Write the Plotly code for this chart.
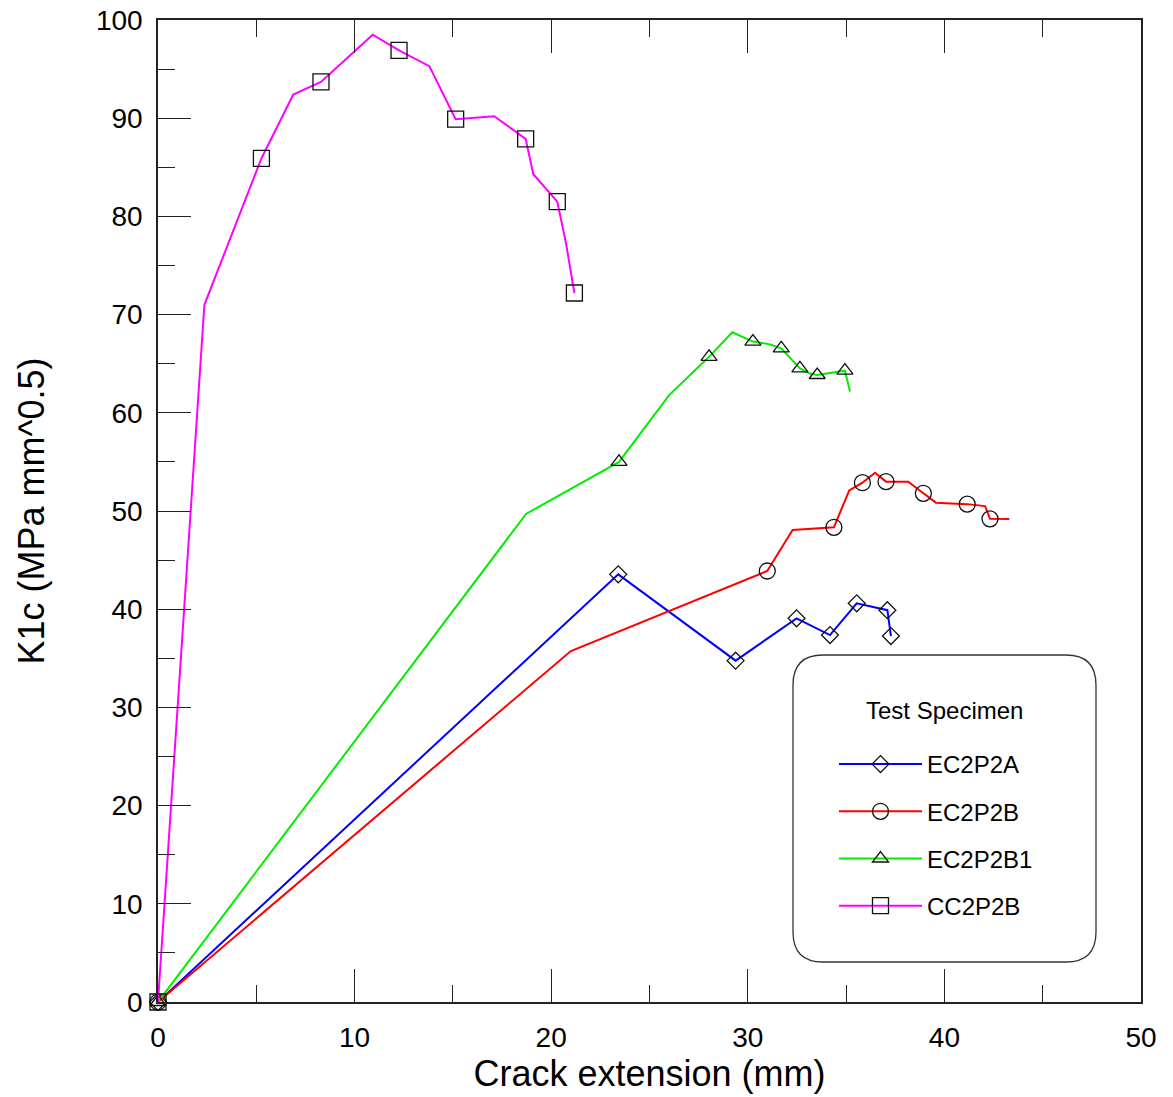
import plotly.graph_objects as go

# ---------------- data ----------------
series_names = ["EC2P2A", "EC2P2B", "EC2P2B1", "CC2P2B"]

ec2p2a_x = [0, 23.41, 29.38, 32.48, 34.18, 35.54, 37.10, 37.28]
ec2p2a_y = [0, 43.55, 34.76, 39.07, 37.37, 40.60, 39.90, 37.27]
ec2p2a_marked = [0, 1, 2, 3, 4, 5, 6, 7]

ec2p2b_x = [0, 21.00, 30.99, 32.28, 34.38, 35.16, 35.83, 36.47, 37.03, 38.16,
            38.93, 39.57, 41.16, 42.07, 42.32, 43.30]
ec2p2b_y = [0, 35.74, 43.89, 48.07, 48.34, 52.10, 52.88, 53.90, 52.99, 52.99,
            51.80, 50.85, 50.70, 50.50, 49.20, 49.18]
ec2p2b_marked = [0, 2, 4, 6, 8, 10, 12, 14]

ec2p2b1_x = [0, 18.72, 23.45, 26.00, 28.03, 29.21, 30.26, 31.13, 31.70, 32.65,
             33.16, 33.53, 34.94, 35.20]
ec2p2b1_y = [0, 49.70, 55.00, 61.80, 65.70, 68.20, 67.25, 66.97, 66.56, 64.53,
             64.00, 63.85, 64.29, 62.17]
ec2p2b1_marked = [0, 2, 4, 6, 8, 9, 11, 12]

cc2p2b_x = [0, 2.36, 5.26, 6.88, 8.29, 10.92, 12.26, 13.80, 15.14, 17.10,
            18.70, 19.09, 20.31, 20.75, 21.18]
cc2p2b_y = [0, 71.0, 85.9, 92.4, 93.7, 98.5, 96.9, 95.3, 89.9, 90.2,
            87.9, 84.3, 81.5, 77.3, 72.2]
cc2p2b_marked = [0, 2, 4, 6, 8, 10, 12, 14]

x_ticks = [0, 10, 20, 30, 40, 50]
y_ticks = [0, 10, 20, 30, 40, 50, 60, 70, 80, 90, 100]

# ---------------- styling ----------------
FONT = "Arial, Liberation Sans, sans-serif"
AX = "#222222"
styles = [
    dict(color="#0000ff", symbol="diamond-open", size=13),
    dict(color="#ff0000", symbol="circle-open", size=16),
    dict(color="#00ee00", symbol="triangle-up-open", size=14),
    dict(color="#ff00ff", symbol="square-open", size=16),
]
data = [
    (ec2p2a_x, ec2p2a_y, ec2p2a_marked),
    (ec2p2b_x, ec2p2b_y, ec2p2b_marked),
    (ec2p2b1_x, ec2p2b1_y, ec2p2b1_marked),
    (cc2p2b_x, cc2p2b_y, cc2p2b_marked),
]

fig = go.Figure()
for name, (xs, ys, marked), st in zip(series_names, data, styles):
    mcol = ["#111111" if i in marked else "rgba(0,0,0,0)" for i in range(len(xs))]
    fig.add_trace(go.Scatter(
        x=xs, y=ys, name=name, mode="lines+markers",
        legendgroup=name,
        line=dict(color=st["color"], width=2),
        marker=dict(symbol=st["symbol"], size=st["size"], color=mcol,
                    line=dict(width=1.3)),
        cliponaxis=False,
    ))

axis_common = dict(
    showgrid=False, zeroline=False, showline=True, linecolor=AX, linewidth=1.5,
    ticks="inside", ticklen=33, tickwidth=1.3, tickcolor=AX, automargin=False,
    tickfont=dict(family=FONT, size=28, color="black"),
)

fig.update_layout(
    width=1173, height=1097,
    margin=dict(l=158, r=32, t=20, b=95),
    paper_bgcolor="white", plot_bgcolor="white",
    font=dict(family=FONT, color="black"),
    xaxis=dict(
        range=[0, 50], tickvals=x_ticks, mirror="ticks",
        minor=dict(dtick=5, ticks="inside", ticklen=17, tickwidth=1.3, tickcolor=AX),
        title=dict(text="Crack extension (mm)", font=dict(family=FONT, size=36), standoff=4),
        ticklabelstandoff=10,
        **axis_common,
    ),
    yaxis=dict(
        range=[0, 100], tickvals=y_ticks, mirror=True,
        minor=dict(dtick=5, ticks="inside", ticklen=17, tickwidth=1.3, tickcolor=AX),
        title=dict(text="K1c (MPa mm^0.5)", font=dict(family=FONT, size=36), standoff=40),
        ticklabelstandoff=8,
        **axis_common,
    ),
    yaxis2=dict(
        overlaying="y", side="right", anchor="x", range=[0, 120], dtick=20,
        showticklabels=False, showgrid=False, zeroline=False, showline=False,
        ticks="inside", ticklen=33, tickwidth=1.3, tickcolor=AX,
        minor=dict(dtick=10, ticks="inside", ticklen=17, tickwidth=1.3, tickcolor=AX),
    ),
    legend=dict(
        x=(834 - 158) / 983, xanchor="left", y=(1002 - 742) / 982, yanchor="top",
        bgcolor="rgba(0,0,0,0)", borderwidth=0,
        font=dict(family=FONT, size=24, color="black"),
        traceorder="grouped", tracegroupgap=13,
        itemsizing="trace", itemwidth=83,
    ),
)

# rounded legend frame and heading (paper coordinates)
x0, x1 = (793 - 158) / 983, (1096 - 158) / 983
y0, y1 = (1002 - 962) / 982, (1002 - 655) / 982
rx, ry = 30 / 983, 30 / 982
path = (f"M {x0+rx},{y0} L {x1-rx},{y0} Q {x1},{y0} {x1},{y0+ry} "
        f"L {x1},{y1-ry} Q {x1},{y1} {x1-rx},{y1} L {x0+rx},{y1} "
        f"Q {x0},{y1} {x0},{y1-ry} L {x0},{y0+ry} Q {x0},{y0} {x0+rx},{y0} Z")
fig.add_shape(type="path", xref="paper", yref="paper", path=path,
              line=dict(color="#333333", width=1.3), fillcolor="white", layer="below")
fig.add_annotation(text="Test Specimen", xref="paper", yref="paper",
                   x=(944 - 158) / 983, y=(1002 - 710) / 982,
                   xanchor="center", yanchor="middle", showarrow=False,
                   font=dict(family=FONT, size=24, color="black"))

fig.write_html("out.html")
